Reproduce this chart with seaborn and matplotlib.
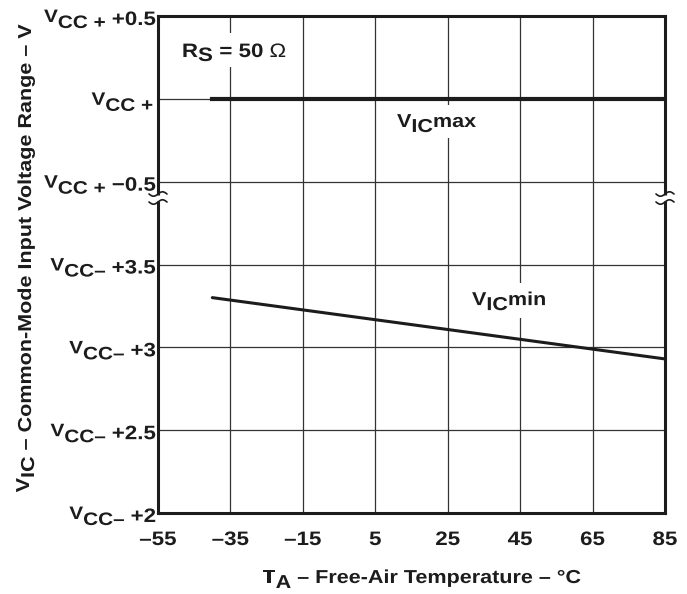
import numpy as np
import pandas as pd
import matplotlib
matplotlib.use("Agg")
import matplotlib.pyplot as plt
import seaborn as sns
from matplotlib.patheffects import AbstractPathEffect
from matplotlib.transforms import Affine2D, IdentityTransform
from matplotlib.patches import Rectangle

# ---- data ----
temps = [-40, 85]
vicmax_rel_vccp = [0.0, 0.0]        # V relative to VCC+
vicmin_rel_vccm = [3.30, 2.93]      # V relative to VCC-
x_ticks = [-55, -35, -15, 5, 25, 45, 65, 85]
y_tick_sub = ["CC\u2013", "CC\u2013", "CC\u2013", "CC\u2013", "CC +", "CC +", "CC +"]
y_tick_val = ["+2", "+2.5", "+3", "+3.5", "\u22120.5", "", "+0.5"]

sns.set_theme(style="white")
plt.rcParams["font.family"] = ["Liberation Sans", "DejaVu Sans"]
INK = "#1c1c1c"

def from_vccm(v):
    return (np.asarray(v) - 2.0) / 0.5

def from_vccp(v):
    return 5.0 + np.asarray(v) / 0.5

df_max = pd.DataFrame({"T": temps, "y": from_vccp(vicmax_rel_vccp)})
df_min = pd.DataFrame({"T": temps, "y": from_vccm(vicmin_rel_vccm)})

fig = plt.figure(figsize=(6.87, 5.94), dpi=100)
ax = fig.add_axes([158/687, 1 - 513/594, (665-158)/687, (513-16)/594])

sns.lineplot(data=df_max, x="T", y="y", ax=ax, color=INK, lw=3.0, zorder=3,
             solid_capstyle="projecting")
sns.lineplot(data=df_min, x="T", y="y", ax=ax, color=INK, lw=2.2, zorder=3)

ax.set_xlim(-55, 85)
ax.set_ylim(0, 6)
ax.set_xticks(x_ticks)
ax.set_yticks(range(7))
ax.tick_params(axis="both", length=0, labelleft=False, labelbottom=False)
ax.set_xlabel("")
ax.set_ylabel("")
ax.grid(True, color="#333333", lw=0.9)
for s in ax.spines.values():
    s.set_color(INK)
    s.set_linewidth(2.2)

# ---- rich text helper (horizontally stretched Helvetica-like lettering) ----
class Stretch(AbstractPathEffect):
    def __init__(self, sx):
        super().__init__()
        self.sx = sx

    def draw_path(self, renderer, gc, tpath, affine, rgbFace=None):
        renderer.draw_path(gc, tpath, Affine2D().scale(self.sx, 1.0) + affine, rgbFace)

renderer = fig.canvas.get_renderer()

def text_w(s, size, weight):
    t = fig.text(0, 0, s, fontsize=size, fontweight=weight)
    w = t.get_window_extent(renderer).width
    t.remove()
    return w

SX = 1.15

def rich(pt, parts, ha="left", rotation=0, dx=0, dy=0, box=None):
    """pt: display coords of anchor; parts: (text, size, baseline shift px, weight)."""
    px, py = pt[0] + dx, pt[1] + dy
    ws = []
    for p in parts:
        weight = p[3] if len(p) > 3 else "bold"
        ws.append(text_w(p[0], p[1], weight) * SX if p[0].strip() else text_w("x" + p[0] + "x", p[1], weight) * SX - text_w("xx", p[1], weight) * SX)
    total = sum(ws)
    cur = {"left": 0.0, "right": -total, "center": -total / 2}[ha]
    start = cur
    for p, w in zip(parts, ws):
        s, size, sh = p[0], p[1], p[2]
        weight = p[3] if len(p) > 3 else "bold"
        if rotation == 0:
            x, y = px + cur, py + sh
        else:
            x, y = px - sh, py + cur
        fig.text(x, y, s, transform=IdentityTransform(), fontsize=size, fontweight=weight,
                 ha="left", va="baseline", rotation=rotation, rotation_mode="anchor",
                 color=INK, path_effects=[Stretch(SX)], zorder=6)
        cur += w
    if box is not None:
        top, bot = box
        ax.add_patch(Rectangle((px + start - 5, py - bot), total + 10, top + bot,
                               transform=IdentityTransform(), facecolor="white",
                               edgecolor="none", zorder=2.5, clip_on=False))

# y tick labels
ytr = ax.get_yaxis_transform()
for i, (sub, val) in enumerate(zip(y_tick_sub, y_tick_val)):
    parts = [("V", 13, -6), (sub, 13, -12)]
    if val:
        parts.append((" " + val, 14, -9))
    rich(ytr.transform((0, i)), parts, ha="right", dx=-2 if val else -5)

# x tick labels
xtr = ax.get_xaxis_transform()
for t in x_ticks:
    lab = str(t).replace("-", "\u2013")
    rich(xtr.transform((t, 0)), [(lab, 14, 0)], ha="center", dy=-32)

# axis titles
rich(ax.transAxes.transform((0.5197, 0)),
     [("T", 13.5, 0), ("A", 13.5, -5), (" \u2013 Free-Air Temperature \u2013 \u00b0C", 13.5, 0)],
     ha="center", dy=-70)
rich((31, ax.transAxes.transform((0, 0.512))[1]),
     [("V", 13.5, 2), ("IC", 13.5, -3), (" \u2013 Common-Mode Input Voltage Range \u2013 V", 13.5, 0)],
     ha="center", rotation=90)

# annotations
ann_x = [-48.4, 11.0, 31.7]
ann_y = [5.505, 4.66, 2.51]
rich(ax.transData.transform((ann_x[0], ann_y[0])),
     [("R", 14, 0), ("S", 14, -4), (" = 50 ", 14, 0), ("\u03a9", 14, 0, "normal")], box=(24, 10))
rich(ax.transData.transform((ann_x[1], ann_y[1])),
     [("V", 13.5, 0), ("IC", 13.5, -5), ("max", 13.5, 0)], box=(22, 11))
rich(ax.transData.transform((ann_x[2], ann_y[2])),
     [("V", 13.5, 0), ("IC", 13.5, -5), ("min", 13.5, 0)], box=(22, 13))

# break marks on both spines
W, H = 507.0, 497.0
tt = np.linspace(-1, 1, 40)
for xc in (0.0, 1.0):
    ax.plot([xc, xc], [(513-201)/H, (513-195)/H], transform=ax.transAxes, color="white",
            lw=5, clip_on=False, zorder=6, solid_capstyle="butt")
    for ypix in (194, 202):
        xs = xc + tt * 9 / W
        ys = (513 - ypix) / H + np.sin(np.pi * tt) * 2.2 / H
        ax.plot(xs, ys, transform=ax.transAxes, color=INK, lw=1.2, clip_on=False, zorder=7)

fig.savefig("out.png", dpi=100)
